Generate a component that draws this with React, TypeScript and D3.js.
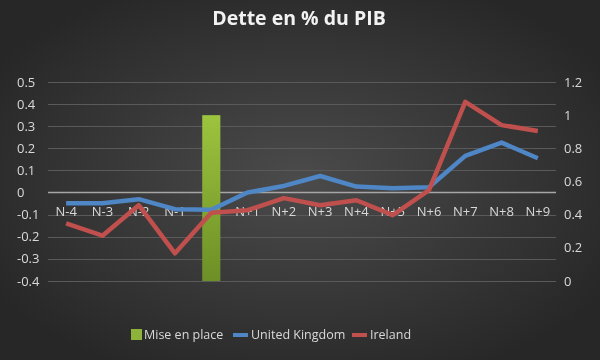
import React, { useRef, useEffect } from "react";
import * as d3 from "d3";

const categories = ["N-4", "N-3", "N-2", "N-1", "N", "N+1", "N+2", "N+3", "N+4", "N+5", "N+6", "N+7", "N+8", "N+9"];
// "Mise en place" bar, right axis
const miseEnPlace = [null, null, null, null, 1, null, null, null, null, null, null, null, null, null];
// left axis
const unitedKingdom = [-0.048, -0.048, -0.03, -0.075, -0.078, 0.0, 0.03, 0.075, 0.027, 0.02, 0.024, 0.166, 0.226, 0.155];
// right axis
const ireland = [0.347, 0.273, 0.457, 0.167, 0.411, 0.427, 0.5, 0.457, 0.487, 0.397, 0.548, 1.08, 0.94, 0.905];
const leftTicks = [-0.4, -0.3, -0.2, -0.1, 0, 0.1, 0.2, 0.3, 0.4, 0.5];
const rightTicks = [0, 0.2, 0.4, 0.6, 0.8, 1, 1.2];

const W = 600;
const H = 360;

const DebtChart = () => {
  const ref = useRef<SVGSVGElement>(null);

  useEffect(() => {
    if (!ref.current) return;
    const svg = d3.select(ref.current);
    svg.selectAll("*").remove();

    const margin = { top: 82, right: 44, bottom: 79, left: 48 };
    const innerW = W - margin.left - margin.right;
    const innerH = H - margin.top - margin.bottom;
    const font = "'Open Sans', sans-serif";
    const textColor = "#d9d9d9";
    const fs = 12.5;

    const defs = svg.append("defs");
    const bg = defs.append("radialGradient").attr("id", "bg").attr("cx", "50%").attr("cy", "50%").attr("r", "60%");
    bg.append("stop").attr("offset", "0%").attr("stop-color", "#4b4b4b");
    bg.append("stop").attr("offset", "100%").attr("stop-color", "#272727");
    const barGrad = defs.append("linearGradient").attr("id", "barGrad").attr("x1", 0).attr("y1", 0).attr("x2", 0).attr("y2", 1);
    barGrad.append("stop").attr("offset", "0%").attr("stop-color", "#9cc43e");
    barGrad.append("stop").attr("offset", "100%").attr("stop-color", "#6d8f27");

    svg.append("rect").attr("width", W).attr("height", H).attr("fill", "url(#bg)");

    svg.append("text")
      .attr("x", W / 2 - 1)
      .attr("y", 25)
      .attr("text-anchor", "middle")
      .attr("font-family", font)
      .attr("font-weight", "bold")
      .attr("font-size", 19.5)
      .attr("fill", "#f2f2f2")
      .text("Dette en % du PIB");

    const x = d3.scaleBand().domain(categories).range([0, innerW]);
    const yL = d3.scaleLinear().domain([-0.4, 0.5]).range([innerH, 0]);
    const yR = d3.scaleLinear().domain([0, 1.2]).range([innerH, 0]);

    const g = svg.append("g").attr("transform", `translate(${margin.left},${margin.top})`);

    // gridlines
    g.selectAll(".grid")
      .data(leftTicks.filter(t => t !== 0))
      .enter()
      .append("line")
      .attr("x1", 0)
      .attr("x2", innerW)
      .attr("y1", d => Math.round(yL(d)) + 0.5)
      .attr("y2", d => Math.round(yL(d)) + 0.5)
      .attr("stroke", "#5a5a5a")
      .attr("stroke-width", 1);

    // zero line
    g.append("line")
      .attr("x1", 0)
      .attr("x2", innerW)
      .attr("y1", yL(0))
      .attr("y2", yL(0))
      .attr("stroke", "#a6a6a6")
      .attr("stroke-width", 1.5);

    // left tick labels
    g.selectAll(".lt")
      .data(leftTicks)
      .enter()
      .append("text")
      .attr("x", -31)
      .attr("y", d => yL(d))
      .attr("dy", "0.35em")
      .attr("font-family", font)
      .attr("font-size", 13)
      .attr("fill", textColor)
      .text(d => String(+d.toFixed(1)));

    // right tick labels
    g.selectAll(".rt")
      .data(rightTicks)
      .enter()
      .append("text")
      .attr("x", innerW + 8)
      .attr("y", d => yR(d))
      .attr("dy", "0.35em")
      .attr("font-family", font)
      .attr("font-size", 13)
      .attr("fill", textColor)
      .text(d => String(+d.toFixed(1)));

    // category labels just under zero line
    g.selectAll(".cat")
      .data(categories)
      .enter()
      .append("text")
      .attr("x", d => (x(d) as number) + x.bandwidth() / 2)
      .attr("y", yL(0) + 19)
      .attr("dy", "0.35em")
      .attr("text-anchor", "middle")
      .attr("font-family", font)
      .attr("font-size", 13)
      .attr("fill", textColor)
      .text(d => d);

    // bar
    g.selectAll(".bar")
      .data(categories.map((c, i) => ({ c, v: miseEnPlace[i] })).filter(d => d.v != null))
      .enter()
      .append("rect")
      .attr("x", d => (x(d.c) as number) + x.bandwidth() * 0.25)
      .attr("width", x.bandwidth() * 0.5)
      .attr("y", d => yR(d.v as number))
      .attr("height", d => yR(0) - yR(d.v as number))
      .attr("fill", "url(#barGrad)");

    const cx = (i: number) => (x(categories[i]) as number) + x.bandwidth() / 2;

    const ukLine = d3.line<number>().x((_, i) => cx(i)).y(d => yL(d));
    const ieLine = d3.line<number>().x((_, i) => cx(i)).y(d => yR(d));

    g.append("path")
      .datum(unitedKingdom)
      .attr("d", ukLine)
      .attr("fill", "none")
      .attr("stroke", "#4f86c6")
      .attr("stroke-width", 4.5)
      .attr("stroke-linejoin", "round");

    g.append("path")
      .datum(ireland)
      .attr("d", ieLine)
      .attr("fill", "none")
      .attr("stroke", "#c0504d")
      .attr("stroke-width", 4.5)
      .attr("stroke-linejoin", "round");

    // legend
    const leg = svg.append("g").attr("transform", "translate(0,335)");
    leg.append("rect").attr("x", 131).attr("y", -6).attr("width", 11).attr("height", 11).attr("fill", "#8db33a");
    leg.append("text").attr("x", 144).attr("y", 0).attr("dy", "0.35em").attr("font-family", font).attr("font-size", fs).attr("fill", textColor).text("Mise en place");
    leg.append("line").attr("x1", 233).attr("x2", 248).attr("y1", 0).attr("y2", 0).attr("stroke", "#4f86c6").attr("stroke-width", 4);
    leg.append("text").attr("x", 251).attr("y", 0).attr("dy", "0.35em").attr("font-family", font).attr("font-size", fs).attr("fill", textColor).text("United Kingdom");
    leg.append("line").attr("x1", 352).attr("x2", 367).attr("y1", 0).attr("y2", 0).attr("stroke", "#c0504d").attr("stroke-width", 4);
    leg.append("text").attr("x", 370).attr("y", 0).attr("dy", "0.35em").attr("font-family", font).attr("font-size", fs).attr("fill", textColor).text("Ireland");
  }, []);

  return <svg ref={ref} width={W} height={H} style={{ display: "block" }}></svg>;
};

export default function App() {
  return (
    <div style={{ position: "fixed", left: 0, top: 0 }}>
      <DebtChart />
    </div>
  );
}
